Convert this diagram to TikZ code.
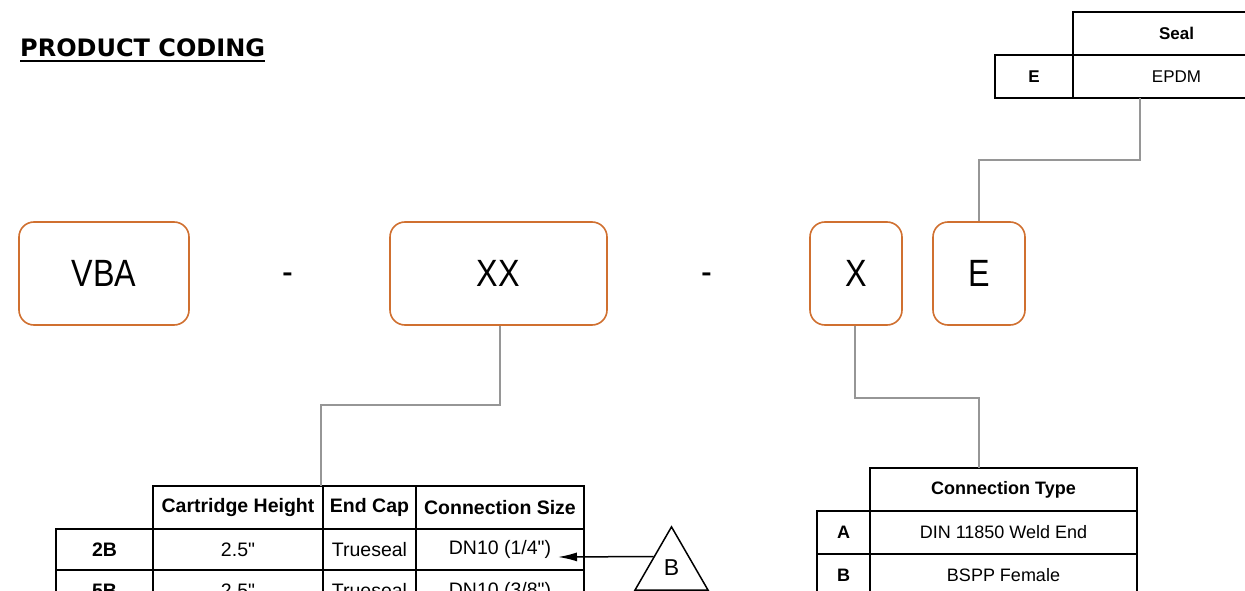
\documentclass[tikz,border=0pt]{standalone}
\usepackage{fontspec}
\setmainfont{Liberation Sans}
\newfontfamily\plainfont{Liberation Sans}
\newfontfamily\titlefont{DejaVu Sans}
\newfontfamily\codefont[FakeStretch=0.85]{Liberation Sans}
\usetikzlibrary{arrows.meta,shapes.geometric,calc}
\definecolor{boxorange}{RGB}{208,112,48}
\definecolor{linkgray}{RGB}{150,150,150}
\newcommand{\inch}{{\plainfont"}}
\tikzset{
  codebox/.style={draw=boxorange, line width=1.6pt, rounded corners=15pt, inner sep=0pt, font=\codefont\fontsize{38}{40}\selectfont},
  link/.style={draw=linkgray, line width=1.6pt},
  cell/.style={draw=black, line width=2pt, inner sep=0pt, font=\fontsize{19.5}{22}\selectfont},
  rcell/.style={draw=black, line width=2pt, inner sep=0pt, font=\fontsize{18}{21}\selectfont},
  scell/.style={draw=black, line width=2pt, inner sep=0pt, font=\fontsize{17}{20}\selectfont},
}
\begin{document}
\begin{tikzpicture}[x=1pt,y=-1pt]
\useasboundingbox (0,0) rectangle (1245,591);
\clip (0,0) rectangle (1245,591);
\fill[white] (0,0) rectangle (1245,591);

% title
\node[anchor=base west, inner sep=0pt, font=\titlefont\bfseries\fontsize{24}{28}\selectfont] (title) at (20,57) {PRODUCT CODING};
\draw[line width=2pt] ([yshift=-4pt]title.base west) -- ([yshift=-4pt]title.base east);

% code boxes
\node[codebox, minimum width=170pt, minimum height=103pt] (vba) at (104,273.5) {VBA};
\node[codebox, minimum width=217pt, minimum height=103pt] (xx) at (498.5,273.5) {XX};
\node[codebox, minimum width=92pt, minimum height=103pt] (x) at (856,273.5) {X};
\node[codebox, minimum width=92pt, minimum height=103pt] (e) at (979,273.5) {E};
\node[font=\codefont\fontsize{38}{40}\selectfont] (d1) at (288,279) {-};
\node[font=\codefont\fontsize{38}{40}\selectfont] (d2) at (707,279) {-};

% seal table
\node[scell, font=\bfseries\fontsize{17}{20}\selectfont, minimum width=207pt, minimum height=43pt] (sealh) at (1176.5,33.5) {Seal};
\node[scell, font=\bfseries\fontsize{17}{20}\selectfont, minimum width=78pt, minimum height=43pt] (sealc) at (1034,76.5) {E};
\node[scell, minimum width=207pt, minimum height=43pt] (sealv) at (1176.5,76.5) {EPDM};

% left table
\node[cell, font=\bfseries\fontsize{19.5}{22}\selectfont, minimum width=170pt, minimum height=43pt] (ch) at (238,507.5) {Cartridge Height};
\node[cell, font=\bfseries\fontsize{19.5}{22}\selectfont, minimum width=93pt, minimum height=43pt] (ec) at (369.5,507.5) {End Cap};
\node[cell, font=\bfseries\fontsize{19.5}{22}\selectfont, minimum width=168pt, minimum height=43pt] (cs) at (500,507.5) {Connection Size};
\node[cell, font=\bfseries\fontsize{19.5}{22}\selectfont, minimum width=97pt, minimum height=41pt] (ra) at (104.5,549.5) {2B};
\node[cell, minimum width=170pt, minimum height=41pt] (rb) at (238,549.5) {2.5\inch};
\node[cell, minimum width=93pt, minimum height=41pt] (rc) at (369.5,549.5) {Trueseal};
\node[cell, minimum width=168pt, minimum height=41pt] (rd) at (500,549.5) {DN10 (1/4\inch)};
\node[cell, font=\bfseries\fontsize{19.5}{22}\selectfont, minimum width=97pt, minimum height=42pt] (sa) at (104.5,591) {5B};
\node[cell, minimum width=170pt, minimum height=42pt] (sb) at (238,591) {2.5\inch};
\node[cell, minimum width=93pt, minimum height=42pt] (sc) at (369.5,591) {Trueseal};
\node[cell, minimum width=168pt, minimum height=42pt] (sd) at (500,591) {DN10 (3/8\inch)};

% right table
\node[rcell, font=\bfseries\fontsize{18}{21}\selectfont, minimum width=267pt, minimum height=43pt] (ct) at (1003.5,489.5) {Connection Type};
\node[rcell, font=\bfseries\fontsize{18}{21}\selectfont, minimum width=53pt, minimum height=43pt] (ca) at (843.5,532.5) {A};
\node[rcell, minimum width=267pt, minimum height=43pt] (cav) at (1003.5,532.5) {DIN 11850 Weld End};
\node[rcell, font=\bfseries\fontsize{18}{21}\selectfont, minimum width=53pt, minimum height=43pt] (cb) at (843.5,575.5) {B};
\node[rcell, minimum width=267pt, minimum height=43pt] (cbv) at (1003.5,575.5) {BSPP Female};

% connectors
\draw[link] (xx.south -| 500,0) -- (500,405) -- (321,405) -- (321,486);
\draw[link] (x.south -| 855,0) -- (855,398) -- (979,398) -- (979,468);
\draw[link] (e.north) -- (979,160) -- (1140,160) -- (1140,98);

% triangle marker
\node[draw=black, line width=1.5pt, regular polygon, regular polygon sides=3, minimum size=84.3pt, inner sep=0pt] (tri) at (671.5,569) {};
\node[font=\fontsize{23}{25}\selectfont] (tril) at (671.5,568) {B};
\coordinate (tip) at (558,557);
\draw[line width=1.5pt, -{Latex[length=19pt,width=9pt]}] ($(tri.corner 1)!0.476!(tri.corner 2)$) -- (tip);
\end{tikzpicture}
\end{document}
